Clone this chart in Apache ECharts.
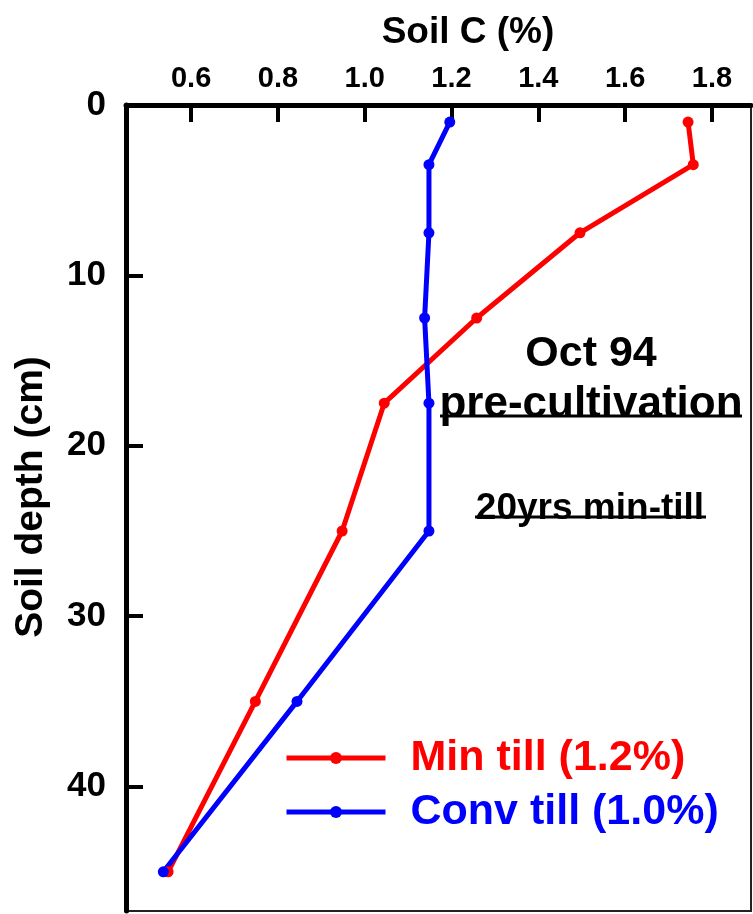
<!DOCTYPE html>
<html>
<head>
<meta charset="utf-8">
<script src="https://cdn.jsdelivr.net/npm/echarts@6/dist/echarts.min.js"></script>
<style>
  html, body { margin: 0; padding: 0; background: #fff; }
  #chart { width: 753px; height: 914px; }
</style>
</head>
<body>
<div id="chart"></div>
<script>
// Soil carbon profile by depth, two tillage systems
const depths = [1, 3.5, 7.5, 12.5, 17.5, 25, 35, 45];
const minTill = [1.745, 1.757, 1.496, 1.258, 1.045, 0.948, 0.748, 0.547];
const convTill = [1.196, 1.148, 1.148, 1.138, 1.148, 1.148, 0.844, 0.536];
const xTicks = [0.6, 0.8, 1.0, 1.2, 1.4, 1.6, 1.8];
const yTicks = [0, 10, 20, 30, 40];
const seriesNames = ['Min till (1.2%)', 'Conv till (1.0%)'];

const FONT = '"Liberation Sans", Arial, Helvetica, sans-serif';
const RED = '#ff0000';
const BLUE = '#0000ff';

const pairs = (xs) => xs.map((v, i) => [v, depths[i]]);

const chart = echarts.init(document.getElementById('chart'));
chart.setOption({
  animation: false,
  backgroundColor: '#fff',
  grid: {
    left: 126, top: 105, right: 2, bottom: 3,
    containLabel: false, outerBoundsMode: 'none',
    show: true, borderColor: '#222', borderWidth: 2, backgroundColor: 'transparent'
  },
  xAxis: {
    type: 'value', position: 'top', min: 0.45, max: 1.89,
    axisLine: { show: true, onZero: false, lineStyle: { color: '#000', width: 5 } },
    axisTick: { show: true, inside: true, length: 17, customValues: xTicks,
                lineStyle: { color: '#000', width: 4 } },
    axisLabel: { customValues: xTicks, margin: 12, fontFamily: FONT, fontWeight: 'bold',
                 fontSize: 29, color: '#000', formatter: v => v.toFixed(1) },
    splitLine: { show: false }
  },
  yAxis: {
    type: 'value', inverse: true, min: 0, max: 47.3,
    axisLine: { show: true, onZero: false, lineStyle: { color: '#000', width: 5 } },
    axisTick: { show: true, inside: true, length: 17, customValues: yTicks,
                lineStyle: { color: '#000', width: 4 } },
    axisLabel: { customValues: yTicks, margin: 20, fontFamily: FONT, fontWeight: 'bold',
                 fontSize: 35, color: '#000' },
    splitLine: { show: false }
  },
  legend: {
    orient: 'vertical', left: 284, top: 735, padding: 0,
    itemWidth: 99, itemHeight: 15, itemGap: 8,
    lineStyle: { width: 5 },
    textStyle: { fontFamily: FONT, fontWeight: 'bold', fontSize: 43, lineHeight: 46,
                 padding: [0, 0, 0, 20] },
    data: [
      { name: seriesNames[0], textStyle: { color: RED } },
      { name: seriesNames[1], textStyle: { color: BLUE } }
    ]
  },
  graphic: [
    { type: 'text', x: 468, y: 33,
      style: { text: 'Soil C (%)', font: 'bold 37px ' + FONT, fill: '#000',
               align: 'center', verticalAlign: 'middle' } },
    { type: 'text', x: 31, y: 497, rotation: Math.PI / 2,
      style: { text: 'Soil depth (cm)', font: 'bold 39px ' + FONT, fill: '#000',
               align: 'center', verticalAlign: 'middle' } },
    { type: 'text', x: 591, y: 354,
      style: { text: 'Oct 94', font: 'bold 43px ' + FONT, fill: '#000',
               align: 'center', verticalAlign: 'middle' } },
    { type: 'text', x: 591, y: 405,
      style: { text: 'pre-cultivation', font: 'bold 44px ' + FONT, fill: '#000',
               align: 'center', verticalAlign: 'middle' } },
    { type: 'line', shape: { x1: 440, y1: 416, x2: 742, y2: 416 },
      style: { stroke: '#000', lineWidth: 3 } },
    { type: 'text', x: 590, y: 509,
      style: { text: '20yrs min-till', font: 'bold 37px ' + FONT, fill: '#000',
               align: 'center', verticalAlign: 'middle' } },
    { type: 'line', shape: { x1: 475, y1: 517, x2: 706, y2: 517 },
      style: { stroke: '#000', lineWidth: 3 } }
  ],
  series: [
    { name: seriesNames[0], type: 'line', data: pairs(minTill),
      symbol: 'circle', symbolSize: 11, color: RED,
      lineStyle: { color: RED, width: 5 }, itemStyle: { color: RED } },
    { name: seriesNames[1], type: 'line', data: pairs(convTill),
      symbol: 'circle', symbolSize: 11, color: BLUE,
      lineStyle: { color: BLUE, width: 5 }, itemStyle: { color: BLUE } }
  ]
});
</script>
</body>
</html>
